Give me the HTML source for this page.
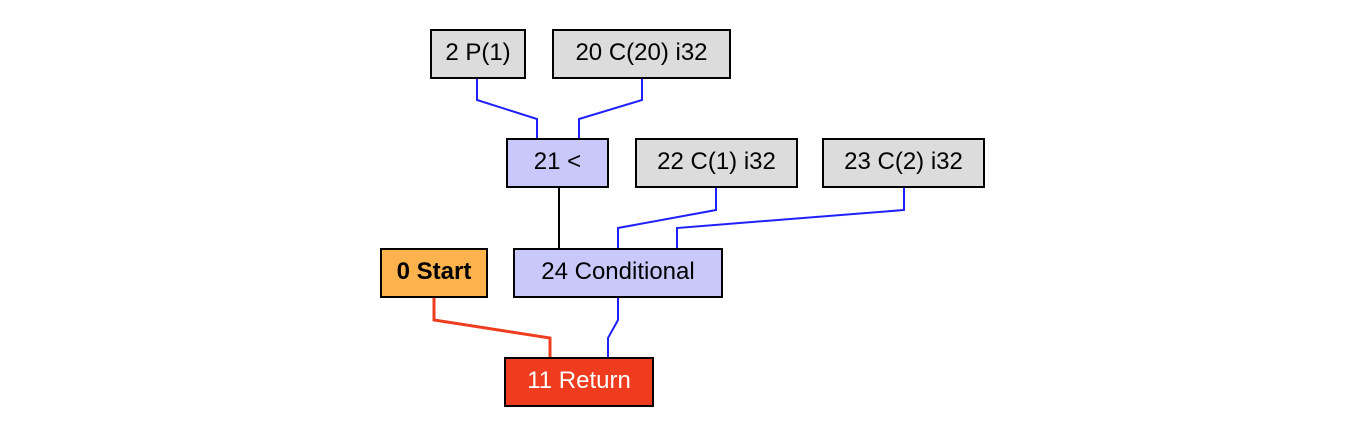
<!DOCTYPE html>
<html><head><style>
body{margin:0;width:1363px;height:432px;background:#fff;position:relative;overflow:hidden;font-family:"Liberation Sans",Arial,sans-serif}
.n{position:absolute;box-sizing:border-box;border:2px solid #000;display:flex;align-items:center;justify-content:center;font-size:24px;color:#000;padding-bottom:3px}
.g{background:#dcdcdc}.b{background:#c8c8fa}
svg{position:absolute;left:0;top:0}
</style></head><body>
<svg width="1363" height="432">
<g fill="none" stroke="#2020ff" stroke-width="2">
<polyline points="477,79 477,100 537,119 537,138"/>
<polyline points="642,79 642,100 579,119 579,138"/>
<polyline points="716,188 716,210 618,228 618,248"/>
<polyline points="904,188 904,210 677,228 677,248"/>
<polyline points="618,298 618,320 608,338 608,357"/>
</g>
<polyline points="559,188 559,248" fill="none" stroke="#000" stroke-width="2"/>
<polyline points="434,298 434,320 550,338 550,357" fill="none" stroke="#f03c1e" stroke-width="3"/>
</svg>
<div class="n g" style="left:430px;top:29px;width:96px;height:50px">2 P(1)</div>
<div class="n g" style="left:552px;top:29px;width:179px;height:50px">20 C(20) i32</div>
<div class="n b" style="left:506px;top:138px;width:103px;height:50px">21 &lt;</div>
<div class="n g" style="left:635px;top:138px;width:163px;height:50px">22 C(1) i32</div>
<div class="n g" style="left:822px;top:138px;width:163px;height:50px">23 C(2) i32</div>
<div class="n" style="left:380px;top:248px;width:108px;height:50px;background:#fdb34d;font-weight:bold">0 Start</div>
<div class="n b" style="left:513px;top:248px;width:210px;height:50px">24 Conditional</div>
<div class="n" style="left:504px;top:357px;width:150px;height:50px;background:#f03c1e;color:#fff">11 Return</div>
</body></html>
